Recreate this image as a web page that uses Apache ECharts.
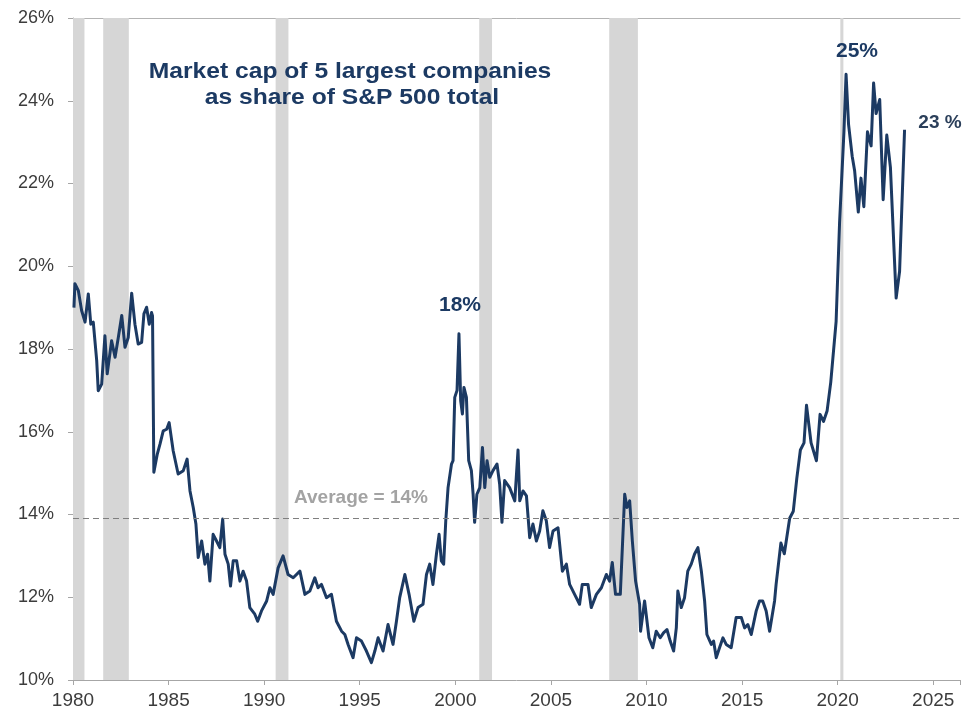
<!DOCTYPE html>
<html>
<head>
<meta charset="utf-8">
<script src="https://cdn.jsdelivr.net/npm/echarts@6/dist/echarts.min.js"></script>
<style>
  html, body { margin: 0; padding: 0; background: #ffffff; }
  #chart { width: 966px; height: 715px; }
</style>
</head>
<body>
<div id="chart"></div>
<script>
// ---- data ----
const years = [
  1980.05,1980.10,1980.28,1980.45,1980.63,1980.80,1980.93,1981.06,1981.24,1981.32,1981.50,1981.67,1981.79,
  1982.02,1982.20,1982.37,1982.55,1982.72,1982.89,1983.07,1983.24,1983.41,1983.59,1983.71,1983.85,1983.99,
  1984.11,1984.16,1984.23,1984.41,1984.55,1984.72,1984.90,1985.03,1985.24,1985.50,1985.77,1985.97,
  1986.12,1986.29,1986.43,1986.55,1986.73,1986.90,1987.04,1987.16,1987.33,1987.51,1987.68,1987.83,1987.95,
  1988.12,1988.24,1988.38,1988.56,1988.73,1988.90,1989.08,1989.25,1989.51,1989.66,1989.86,
  1990.13,1990.30,1990.47,1990.73,1990.99,1991.25,1991.52,1991.87,1992.13,1992.39,1992.65,1992.82,
  1993.00,1993.26,1993.52,1993.78,1994.05,1994.22,1994.39,1994.65,1994.83,1995.09,1995.35,1995.61,1995.79,1995.96,
  1996.22,1996.48,1996.74,1996.92,1997.09,1997.36,1997.58,1997.83,1998.05,1998.31,1998.49,1998.66,1998.83,
  1999.01,1999.15,1999.27,1999.39,1999.50,1999.62,1999.80,1999.88,1999.97,2000.09,2000.19,2000.28,2000.37,
  2000.45,2000.58,2000.70,2000.84,2000.93,2001.01,2001.13,2001.28,2001.42,2001.54,2001.66,2001.80,2001.97,
  2002.18,2002.32,2002.44,2002.58,2002.84,2003.11,2003.28,2003.37,2003.54,2003.72,2003.89,2004.06,2004.24,
  2004.41,2004.58,2004.76,2004.93,2005.11,2005.37,2005.60,2005.81,2005.98,2006.24,2006.50,2006.64,2006.94,
  2007.11,2007.38,2007.64,2007.90,2008.07,2008.21,2008.38,2008.63,2008.86,2008.98,2009.12,2009.26,2009.43,
  2009.64,2009.69,2009.90,2010.13,2010.33,2010.51,2010.72,2010.89,2011.07,2011.24,2011.42,2011.56,2011.64,
  2011.82,2011.99,2012.16,2012.34,2012.51,2012.69,2012.87,2013.04,2013.16,2013.39,2013.51,2013.65,2013.82,
  2014.00,2014.17,2014.43,2014.69,2014.96,2015.13,2015.30,2015.48,2015.74,2015.91,2016.08,2016.26,2016.44,
  2016.70,2016.78,2017.03,2017.21,2017.49,2017.68,2017.86,2018.05,2018.24,2018.37,2018.61,2018.89,2019.08,
  2019.26,2019.45,2019.64,2019.92,2020.10,2020.20,2020.33,2020.44,2020.57,2020.76,2020.89,2021.08,2021.22,
  2021.37,2021.56,2021.75,2021.88,2022.01,2022.20,2022.38,2022.57,2022.76,2023.06,2023.24,2023.50
];
const share = [
  19.00,19.58,19.41,18.93,18.65,19.33,18.60,18.65,17.72,16.99,17.15,18.32,17.40,
  18.20,17.80,18.28,18.81,18.04,18.28,19.35,18.60,18.12,18.16,18.85,19.01,18.60,
  18.88,18.80,15.02,15.46,15.70,16.02,16.06,16.22,15.54,14.98,15.06,15.34,
  14.57,14.17,13.77,12.96,13.36,12.80,13.04,12.39,13.52,13.36,13.20,13.89,13.04,
  12.80,12.27,12.88,12.88,12.39,12.63,12.39,11.75,11.59,11.42,11.67,
  11.91,12.23,12.07,12.71,13.00,12.55,12.47,12.63,12.07,12.15,12.47,12.23,
  12.31,11.99,12.07,11.42,11.18,11.10,10.86,10.54,11.02,10.94,10.70,10.42,10.70,11.02,
  10.70,11.34,10.86,11.42,11.99,12.55,12.07,11.42,11.75,11.83,12.55,12.80,12.31,
  13.04,13.52,12.88,12.80,13.85,14.65,15.22,15.30,16.83,17.00,18.37,16.75,16.43,
  17.07,16.83,15.30,15.06,14.49,13.81,14.49,14.65,15.62,14.65,15.30,14.90,15.06,
  15.22,14.73,13.81,14.82,14.65,14.33,15.56,14.33,14.57,14.45,13.44,13.77,13.36,
  13.60,14.09,13.85,13.20,13.60,13.68,12.63,12.80,12.31,12.07,11.83,12.31,12.31,
  11.75,12.07,12.23,12.55,12.39,12.84,12.07,12.07,14.49,14.17,14.33,13.36,12.39,
  11.83,11.18,11.91,11.02,10.78,11.18,11.02,11.14,11.22,10.94,10.70,11.26,12.15,
  11.75,11.99,12.63,12.80,13.04,13.20,12.63,11.91,11.10,10.86,10.94,10.54,10.78,
  11.02,10.86,10.78,11.51,11.51,11.26,11.34,11.10,11.67,11.91,11.91,11.67,11.18,
  11.91,12.31,13.31,13.05,13.91,14.08,14.86,15.56,15.73,16.64,15.73,15.30,16.42,
  16.25,16.51,17.20,18.67,21.05,21.09,23.26,24.64,23.43,22.66,22.30,21.31,22.13,
  21.44,23.25,22.91,24.43,23.69,24.03,21.61,23.17,22.39,19.23,19.88,23.30
];
// NBER recessions (start, end) in decimal years
const recessionStart = [1980.00, 1981.58, 1990.60, 2001.25, 2008.05, 2020.14];
const recessionEnd   = [1980.60, 1982.92, 1991.27, 2001.92, 2009.55, 2020.30];
const averageShare = 13.9;
const xRange = [1980, 2026.4];
const xStep = 5;
const yRange = [10, 26];
const yStep = 2;
const titleLines = ['Market cap of 5 largest companies', 'as share of S&P 500 total'];
const averageLabel = 'Average = 14%';
const peakLabels = ['18%', '25%', '23 %'];

// ---- chart ----
const seriesData = years.map((y, i) => [y, share[i]]);
const bands = recessionStart.map((s, i) => [{ xAxis: s }, { xAxis: recessionEnd[i] }]);

const FONT = "'Liberation Sans', Arial, sans-serif";
const NAVY = '#1c3a63';

const chart = echarts.init(document.getElementById('chart'), null, { renderer: 'canvas' });
chart.setOption({
  backgroundColor: '#ffffff',
  animation: false,
  grid: { left: 73, right: 6, top: 18, bottom: 35, containLabel: false },
  xAxis: [{
    type: 'value',
    min: xRange[0], max: xRange[1], interval: xStep,
    axisLine: { show: true, lineStyle: { color: '#a6a6a6', width: 1 } },
    axisTick: { show: true, length: 5, lineStyle: { color: '#a6a6a6' } },
    splitLine: { show: false },
    axisLabel: {
      margin: 11, fontSize: 19, color: '#3c3c3c', fontFamily: FONT,
      formatter: v => (Math.abs(v % xStep) < 1e-9 ? String(v) : '')
    }
  }, {
    type: 'value', position: 'top',
    min: xRange[0], max: xRange[1],
    axisLine: { show: true, onZero: false, lineStyle: { color: '#b3b3b3', width: 1 } },
    axisTick: { show: false }, axisLabel: { show: false }, splitLine: { show: false }
  }],
  yAxis: {
    type: 'value',
    min: yRange[0], max: yRange[1], interval: yStep,
    axisLine: { show: true, lineStyle: { color: '#a6a6a6', width: 1 } },
    axisTick: { show: true, length: 5, lineStyle: { color: '#a6a6a6' } },
    splitLine: { show: false },
    axisLabel: { margin: 19, fontSize: 18, color: '#3c3c3c', fontFamily: FONT, formatter: '{value}%' }
  },
  series: [{
    type: 'line',
    data: [],
    z: 1,
    silent: true,
    markArea: {
      silent: true,
      itemStyle: { color: '#d6d6d6', opacity: 1 },
      data: bands
    }
  }, {
    type: 'line',
    data: seriesData,
    showSymbol: false,
    symbol: 'none',
    z: 3,
    lineStyle: { color: NAVY, width: 3, join: 'round' },
    markLine: {
      silent: true,
      symbol: 'none',
      label: { show: false },
      lineStyle: { color: '#7f7f7f', width: 1, type: [6, 4] },
      data: [{ yAxis: averageShare }]
    }
  }],
  graphic: [
    { type: 'text', x: 350, y: 72, scaleX: 1.12, z: 10,
      style: { text: titleLines[0], font: 'bold 22px ' + FONT, fill: NAVY,
               align: 'center', verticalAlign: 'middle', textAlign: 'center', textVerticalAlign: 'middle' } },
    { type: 'text', x: 352, y: 98, scaleX: 1.12, z: 10,
      style: { text: titleLines[1], font: 'bold 22px ' + FONT, fill: NAVY,
               align: 'center', verticalAlign: 'middle', textAlign: 'center', textVerticalAlign: 'middle' } },
    { type: 'text', x: 361, y: 498, z: 10,
      style: { text: averageLabel, font: 'bold 19px ' + FONT, fill: '#a3a3a3',
               align: 'center', verticalAlign: 'middle', textAlign: 'center', textVerticalAlign: 'middle' } },
    { type: 'text', x: 460, y: 305, z: 10,
      style: { text: peakLabels[0], font: 'bold 21px ' + FONT, fill: NAVY,
               align: 'center', verticalAlign: 'middle', textAlign: 'center', textVerticalAlign: 'middle' } },
    { type: 'text', x: 857, y: 51, z: 10,
      style: { text: peakLabels[1], font: 'bold 21px ' + FONT, fill: NAVY,
               align: 'center', verticalAlign: 'middle', textAlign: 'center', textVerticalAlign: 'middle' } },
    { type: 'text', x: 940, y: 123, z: 10,
      style: { text: peakLabels[2], font: 'bold 19px ' + FONT, fill: '#2b3f5a',
               align: 'center', verticalAlign: 'middle', textAlign: 'center', textVerticalAlign: 'middle' } }
  ]
});
</script>
</body>
</html>
